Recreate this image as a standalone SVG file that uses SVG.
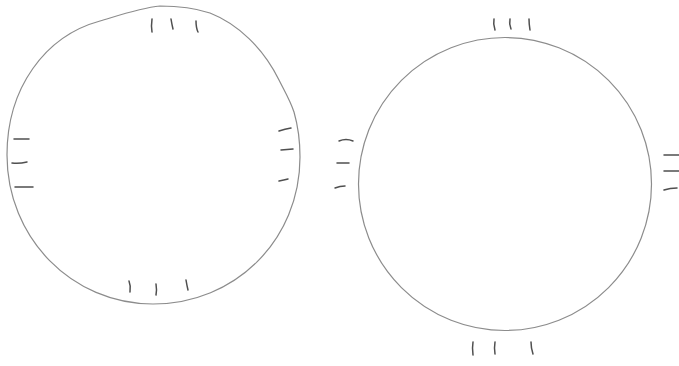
<svg xmlns="http://www.w3.org/2000/svg" width="679" height="366" viewBox="0 0 679 366">
<style>
.ring{fill:none;stroke:#8c8c8c;stroke-width:1.2}
.tick{fill:none;stroke:#4f4f4f;stroke-width:1.5;stroke-linecap:round}
</style>
<rect width="679" height="366" fill="#fff"/>
<g id="left-circle">
<path class="ring" d="M160,6 C175,6 195,8 210,13 C238,24 263,48 279,80 C285,92 290,100 294,112 C298,126 300,140 300,157 C300,240 235,304 153,304 C72,304 7,238 7,155 C7,88 45,36 100,21 C117,16 140,8 160,6 Z"/>
<path class="tick" d="M152,19 Q151,26 152,32"/>
<path class="tick" d="M171,19 Q172,25 173,29"/>
<path class="tick" d="M196,21 Q196,28 198,32"/>
<path class="tick" d="M129,281 Q131,286 130,292"/>
<path class="tick" d="M156,284 Q157,290 156,295"/>
<path class="tick" d="M186,280 Q187,286 188,290"/>
<path class="tick" d="M14,139 L29,139"/>
<path class="tick" d="M12,163 Q19,164 27,162"/>
<path class="tick" d="M15,187 L33,187"/>
<path class="tick" d="M279,131 Q285,129 291,128"/>
<path class="tick" d="M281,150 L293,149"/>
<path class="tick" d="M279,181 Q284,180 288,179"/>
</g>
<g id="right-circle">
<circle class="ring" cx="505" cy="184" r="146.5"/>
<path class="tick" d="M494,19 Q493,24 495,30"/>
<path class="tick" d="M510,19 Q509,24 511,29"/>
<path class="tick" d="M529,19 Q529,24 530,30"/>
<path class="tick" d="M473,342 Q472,348 473,355"/>
<path class="tick" d="M495,342 Q494,348 495,354"/>
<path class="tick" d="M531,342 Q531,348 533,354"/>
<path class="tick" d="M339,141 Q346,138 353,141"/>
<path class="tick" d="M337,163 L349,163"/>
<path class="tick" d="M335,188 Q340,186 345,186"/>
<path class="tick" d="M664,155 L679,155"/>
<path class="tick" d="M664,171 L679,171"/>
<path class="tick" d="M664,190 Q670,188 677,188"/>
</g>
</svg>
